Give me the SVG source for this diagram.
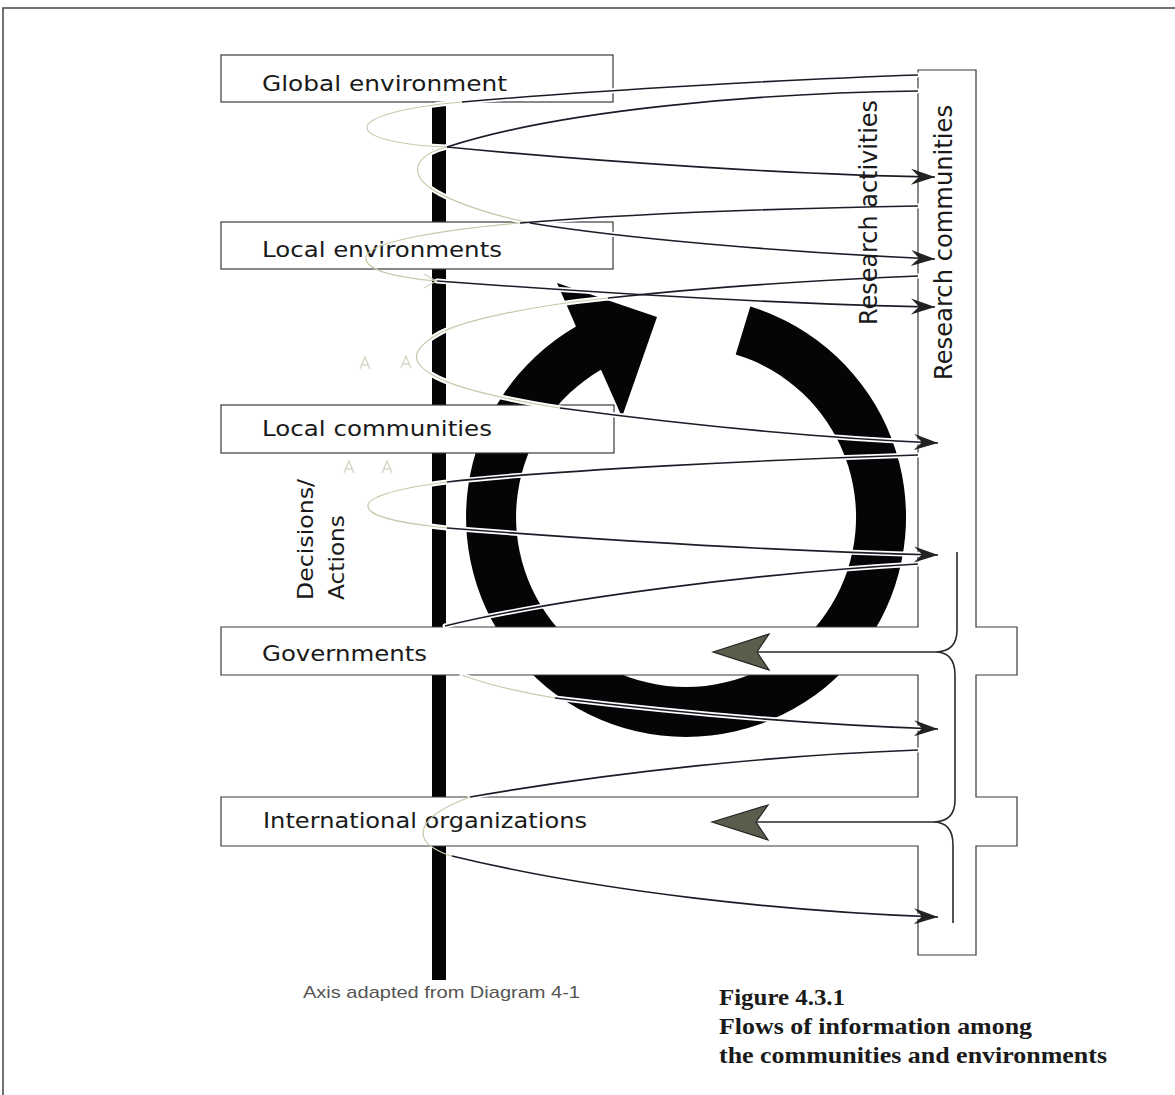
<svg xmlns="http://www.w3.org/2000/svg" xmlns:xlink="http://www.w3.org/1999/xlink" width="1175" height="1095" viewBox="0 0 1175 1095">
  <style>
    .frame { fill: none; stroke: #444; stroke-width: 1.5; }
    .box { fill: #fff; stroke: #3a3a3a; stroke-width: 1.2; }
    .label { font-family: "DejaVu Sans", "Liberation Sans", sans-serif; font-size: 22px; fill: #1a1a1a; }
    .vlabel { font-family: "DejaVu Sans", "Liberation Sans", sans-serif; font-size: 25px; fill: #1a1a1a; }
    .note { font-family: "Liberation Sans", Arial, sans-serif; font-size: 17px; fill: #555; }
    .caption { font-family: "Liberation Serif", "Times New Roman", serif; font-size: 23px; font-weight: bold; fill: #1a1a1a; }
    .halo { fill: none; stroke: #fff; stroke-width: 5; stroke-linecap: round; }
    .dark { fill: none; stroke: #1c1c28; stroke-width: 1.6; }
    .light { fill: none; stroke: #c8c8aa; stroke-width: 1.2; }
    .brace { fill: none; stroke: #2a2a2a; stroke-width: 1.6; }
    .bigtip { fill: #5c5c4c; stroke: #222; stroke-width: 1.2; stroke-linejoin: miter; }
    .faint { fill: none; stroke: #d2d6c2; stroke-width: 1.3; }
  </style>
  <defs>
    <marker id="tip" viewBox="-26 -10 28 20" refX="0" refY="0" markerWidth="28" markerHeight="20" markerUnits="userSpaceOnUse" orient="auto">
      <path d="M0,0 L-24,-8 L-16,0 L-24,8 Z" fill="#222"/>
    </marker>
    <!-- outward strokes (dark, leaving the research box) -->
    <path id="t1a" d="M918,75 C800,79 600,90 462,102"/>
    <path id="t2a" d="M918,91 C760,93 560,110 447,147"/>
    <path id="t3a" d="M918,206 C800,208 640,213 520,223"/>
    <path id="t4a" d="M918,276 C820,280 700,288 608,298"/>
    <path id="t5a" d="M918,455 C760,460 560,470 447,482"/>
    <path id="t6a" d="M918,564 C760,573 560,598 445,626"/>
    <path id="t7a" d="M918,750 C780,755 620,771 470,797"/>
    <!-- loops passing behind the axis (light) -->
    <path id="t1b" d="M462,102 C405,107 366,117 367,128 C368,139 410,146 447,147"/>
    <path id="t2b" d="M447,147 C422,153 414,165 419,176 C426,192 470,210 530,223"/>
    <path id="t3b" d="M520,223 C440,230 368,242 366,257 C364,271 400,278 437,281"/>
    <path id="t4b" d="M608,298 C530,306 465,320 440,333 C420,344 413,354 418,362 C426,377 460,392 560,408"/>
    <path id="t5b" d="M447,482 C392,489 366,498 368,507 C370,517 400,523 447,528"/>
    <path id="t6b" d="M462,675 C485,684 520,692 555,698"/>
    <path id="t7b" d="M470,797 C446,806 428,816 424,828 C421,837 426,843 432,847 C438,851 444,854 452,856"/>
    <!-- returning strokes (dark, arriving at the research box) -->
    <path id="t1c" d="M447,147 C600,162 800,175 935,177"/>
    <path id="t2c" d="M530,223 C620,238 780,252 935,259"/>
    <path id="t3c" d="M437,281 C560,290 760,304 935,307"/>
    <path id="t4c" d="M560,408 C680,424 820,438 938,443"/>
    <path id="t5c" d="M447,528 C600,540 780,551 938,555"/>
    <path id="t6c" d="M555,698 C680,713 820,725 938,729"/>
    <path id="t7c" d="M452,856 C600,892 790,912 938,917"/>
  </defs>

  <rect x="0" y="0" width="1175" height="1095" fill="#fff"/>
  <!-- page frame -->
  <path class="frame" d="M3,1095 V8 H1175"/>

  <!-- vertical axis -->
  <g id="axis">
    <rect x="432" y="102" width="14" height="878" fill="#050505"/>
  </g>

  <!-- circular arrow -->
  <g id="cycle">
    <path d="M750.3,306.6 A220,220 0 1,1 576,326.5 L557,283 L657,317 L622,417 L601,369.8 A170,170 0 1,0 735.7,354.4 Z" fill="#050508"/>
  </g>

  <g id="global-environment">
    <rect class="box" x="221" y="55" width="392" height="47"/>
    <text class="label" x="262" y="90.5" textLength="245" lengthAdjust="spacingAndGlyphs">Global environment</text>
  </g>
  <g id="local-environments">
    <rect class="box" x="221" y="222" width="392" height="47"/>
    <text class="label" x="262" y="257" textLength="240" lengthAdjust="spacingAndGlyphs">Local environments</text>
  </g>
  <g id="local-communities">
    <rect class="box" x="221" y="405" width="393" height="48"/>
    <text class="label" x="262" y="436" textLength="230" lengthAdjust="spacingAndGlyphs">Local communities</text>
  </g>

  <!-- research communities column with its two crossbars -->
  <g id="research-communities">
    <path class="box" d="M918,70 H976 V627 H1017 V675 H976 V797 H1017 V846 H976 V955 H918 V846 H221 V797 H918 V675 H221 V627 H918 Z"/>
  </g>
  <g id="governments">
    <text class="label" x="262" y="661" textLength="165" lengthAdjust="spacingAndGlyphs">Governments</text>
  </g>
  <g id="international-organizations">
    <text class="label" x="263" y="828" textLength="324" lengthAdjust="spacingAndGlyphs">International organizations</text>
  </g>

  <g id="connectors">
    <!-- white halos first so every stroke cuts cleanly through the axis and the ring;
         the two loops that run through box labels get no halo -->
    <g class="halo">
      <use xlink:href="#t1a"/><use xlink:href="#t2a"/><use xlink:href="#t3a"/><use xlink:href="#t4a"/>
      <use xlink:href="#t5a"/><use xlink:href="#t6a"/><use xlink:href="#t7a"/>
      <use xlink:href="#t1b"/><use xlink:href="#t2b"/><use xlink:href="#t4b"/>
      <use xlink:href="#t5b"/><use xlink:href="#t6b"/>
      <use xlink:href="#t1c"/><use xlink:href="#t2c"/><use xlink:href="#t3c"/><use xlink:href="#t4c"/>
      <use xlink:href="#t5c"/><use xlink:href="#t6c"/><use xlink:href="#t7c"/>
    </g>
    <g class="light">
      <use xlink:href="#t1b"/><use xlink:href="#t2b"/><use xlink:href="#t3b"/><use xlink:href="#t4b"/>
      <use xlink:href="#t5b"/><use xlink:href="#t6b"/><use xlink:href="#t7b"/>
    </g>
    <g class="dark">
      <use xlink:href="#t1a"/><use xlink:href="#t2a"/><use xlink:href="#t3a"/><use xlink:href="#t4a"/>
      <use xlink:href="#t5a"/><use xlink:href="#t6a"/><use xlink:href="#t7a"/>
    </g>
    <g class="dark" marker-end="url(#tip)">
      <use xlink:href="#t1c"/><use xlink:href="#t2c"/><use xlink:href="#t3c"/><use xlink:href="#t4c"/>
      <use xlink:href="#t5c"/><use xlink:href="#t6c"/><use xlink:href="#t7c"/>
    </g>
    <!-- faint heads of the hidden loops -->
    <path class="faint" d="M424,274 L436,281 L424,288"/>
    <path class="faint" d="M360,369 L365,357 L370,369 M362,365 H368"/>
    <path class="faint" d="M401,368 L406,356 L411,368 M403,364 H409"/>
    <path class="faint" d="M344,473 L349,461 L354,473 M346,469 H352"/>
    <path class="faint" d="M382,473 L387,461 L392,473 M384,469 H390"/>
    <!-- feedback brace from research to policy bodies -->
    <path class="brace" d="M957,552 V630 Q957,652 935,652 Q955,652 955,675 V800 Q955,822 933,822 Q953,822 953,845 V923"/>
    <path class="brace" d="M935,652 H758 M933,822 H757"/>
    <polygon class="bigtip" points="713,652 769,634 757,652 769,670"/>
    <polygon class="bigtip" points="712,822 768,805 756,822 768,840"/>
  </g>

  <g id="research-labels">
    <text class="vlabel" transform="translate(952,380) rotate(-90)" textLength="275" lengthAdjust="spacingAndGlyphs">Research communities</text>
    <text class="vlabel" transform="translate(877,325) rotate(-90)" textLength="225" lengthAdjust="spacingAndGlyphs">Research activities</text>
  </g>
  <g id="decisions-actions">
    <text class="label" transform="translate(313,600) rotate(-90)" textLength="121" lengthAdjust="spacingAndGlyphs">Decisions/</text>
    <text class="label" transform="translate(344,600) rotate(-90)" textLength="85" lengthAdjust="spacingAndGlyphs">Actions</text>
  </g>

  <text class="note" x="303" y="998" textLength="277" lengthAdjust="spacingAndGlyphs">Axis adapted from Diagram 4-1</text>
  <g id="caption">
    <text class="caption" x="719" y="1005" textLength="126" lengthAdjust="spacingAndGlyphs">Figure 4.3.1</text>
    <text class="caption" x="719" y="1034" textLength="313" lengthAdjust="spacingAndGlyphs">Flows of information among</text>
    <text class="caption" x="719" y="1063" textLength="388" lengthAdjust="spacingAndGlyphs">the communities and environments</text>
  </g>
</svg>
